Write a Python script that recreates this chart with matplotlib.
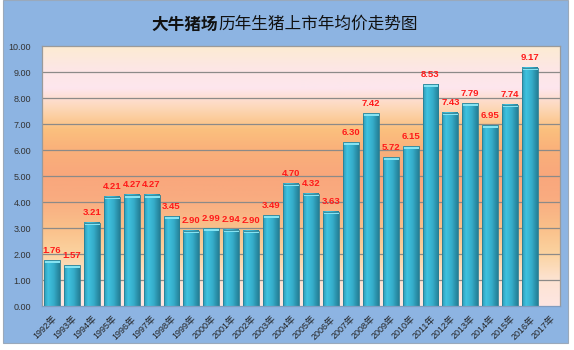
import numpy as np
import matplotlib.pyplot as plt
from matplotlib.colors import LinearSegmentedColormap
from matplotlib.patches import Rectangle

years = [f"{y}年" for y in range(1992, 2018)]
prices = [1.76, 1.57, 3.21, 4.21, 4.27, 4.27, 3.45, 2.90, 2.99, 2.94, 2.90, 3.49,
          4.70, 4.32, 3.63, 6.30, 7.42, 5.72, 6.15, 8.53, 7.43, 7.79, 6.95, 7.74, 9.17]
yticks = np.arange(0, 10.01, 1.0)

title_brand = "大牛猪场"
title_rest = "历年生猪上市年均价走势图"

# plot-area background, bottom -> top
bg_stops = [
    (0.00, "#fde6e2"), (0.10, "#fde3d2"), (0.20, "#fbd3a0"), (0.30, "#fac08a"),
    (0.42, "#f9ab80"), (0.50, "#f9a77c"), (0.60, "#fab07a"), (0.68, "#fbc07e"),
    (0.76, "#fdd7b6"), (0.84, "#fde6ee"), (0.92, "#fde7e4"), (1.00, "#fcebd2"),
]
bg_cmap = LinearSegmentedColormap.from_list("bg", bg_stops)
bar_cmap = LinearSegmentedColormap.from_list(
    "bar", [(0, "#2f9ab5"), (0.25, "#3fc2df"), (0.6, "#36aecb"), (1, "#247f96")])

fig = plt.figure(figsize=(5.74, 3.5), dpi=100, facecolor="white")
fig.patches.append(Rectangle((3 / 574, 7 / 350), 565 / 574, 343 / 350,
                             transform=fig.transFigure, facecolor="#8db4e2",
                             edgecolor="#9aa9bb", lw=0.8, zorder=-1))

ax = fig.add_axes([42 / 574, 44 / 350, 518 / 574, 260 / 350])
n = len(years)

grad = np.linspace(0, 1, 256).reshape(-1, 1)
ax.imshow(grad, cmap=bg_cmap, origin="lower", aspect="auto",
          extent=(-0.5, n - 0.5, 0, 10), zorder=0)
for y in yticks[1:-1]:
    ax.axhline(y, color="#8c8a88", lw=0.9, zorder=1)

w = 0.8
hgrad = np.linspace(0, 1, 64).reshape(1, -1)
for i, v in enumerate(prices):
    x0 = i - w / 2
    ax.imshow(hgrad, cmap=bar_cmap, aspect="auto",
              extent=(x0, x0 + w, 0, v), zorder=2)
    ax.add_patch(Rectangle((x0, v - 0.1), w, 0.1, facecolor="#86e3f2",
                           edgecolor="none", zorder=3))
    ax.add_patch(Rectangle((x0, 0), w, v, facecolor="none",
                           edgecolor="#2a7f93", lw=0.6, zorder=4))
    ax.annotate(f"{v:.2f}", (i, v), xytext=(0, 4), textcoords="offset points",
                ha="center", va="bottom", color="#ff1a1a", fontsize=6.8,
                fontweight="bold", family=["Liberation Sans", "DejaVu Sans"])

ax.set_xlim(-0.5, n - 0.5)
ax.set_ylim(0, 10)
ax.set_yticks(yticks)
ax.set_yticklabels([f"{t:.2f}" for t in yticks], fontsize=6.5, color="#333333",
                   family=["Liberation Sans", "DejaVu Sans"])
ax.set_xticks(range(n))
ax.set_xticklabels(years, rotation=45, ha="right", rotation_mode="anchor",
                   fontsize=6.5, color="#222222",
                   family=["Liberation Sans", "Noto Sans CJK SC"])
ax.tick_params(axis="both", length=0, pad=8)
ax.tick_params(axis="x", pad=6)
for s in ax.spines.values():
    s.set_color("#9a9a9a")
    s.set_linewidth(0.9)
ax.spines["bottom"].set_color("#7f9cc0")

# title: brand name in heavy weight, the rest regular
split_x = 218 / 574
fig.text(split_x, 0.93, title_brand, ha="right", va="center", fontsize=12,
         fontweight="black", family="Noto Sans CJK SC", color="#111111")
fig.text(split_x, 0.93, title_rest, ha="left", va="center", fontsize=12,
         family="Noto Sans CJK SC", color="#111111")

fig.savefig("out.png", dpi=100, facecolor="white")
